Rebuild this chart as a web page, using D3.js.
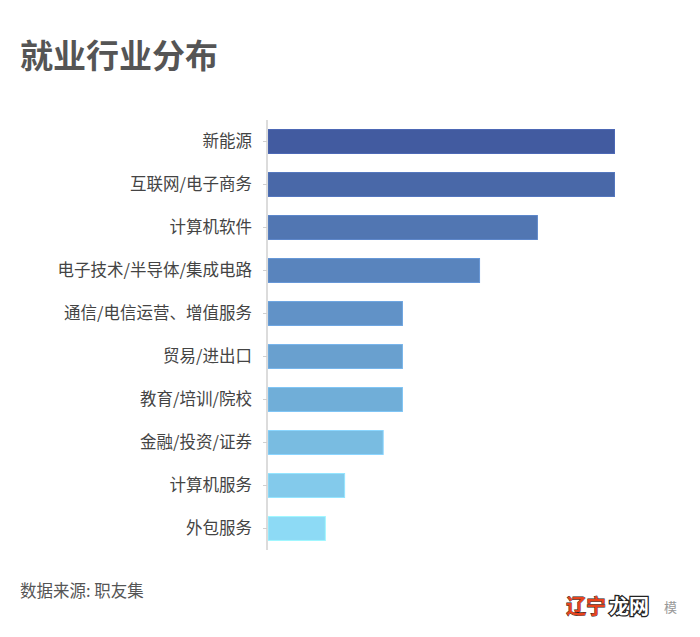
<!DOCTYPE html>
<html><head><meta charset="utf-8">
<script src="https://cdn.jsdelivr.net/npm/d3@7"></script>
<style>
body{margin:0;background:#fff;}
svg text{font-family:"Noto Sans CJK SC","Noto Sans",sans-serif;}
</style></head>
<body><svg id="c" width="700" height="637"></svg>
<script>
const categories = ["新能源","互联网/电子商务","计算机软件","电子技术/半导体/集成电路","通信/电信运营、增值服务","贸易/进出口","教育/培训/院校","金融/投资/证券","计算机服务","外包服务"];
const values = [18,18,14,11,7,7,7,6,4,3];
const colors = ["#425ba0","#4968a8","#5176b2","#5984bd","#6192c7","#69a0cf","#70aed8","#79bce1","#83caeb","#8ddaf5"];
const title = "就业行业分布";
const source = "数据来源: 职友集";

const svg = d3.select("#c");
const x0 = 268, x1 = 615;
const x = d3.scaleLinear().domain([0,18]).range([x0,x1]);
const y = d3.scaleBand().domain(categories).range([120,550]).paddingInner(0.42).paddingOuter(0.21);

svg.append("text").attr("x",20).attr("y",68).attr("font-size",33).attr("font-weight",700)
  .attr("fill","#555").text(title);

svg.selectAll("rect.bar").data(categories).enter().append("rect")
  .attr("class","bar")
  .attr("x",x0).attr("y",d=>y(d)+0.5)
  .attr("width",(d,i)=>x(values[i])-x0-0.5).attr("height",y.bandwidth()-1)
  .attr("fill",(d,i)=>colors[i])
  .attr("stroke",(d,i)=>d3.color(colors[i]).brighter(0.35))
  .attr("stroke-width",1);

const axis = d3.axisLeft(y).tickSize(4).tickPadding(11);
const g = svg.append("g").attr("transform",`translate(${x0-1},0)`).call(axis);
g.select(".domain").attr("stroke","#dcdcdc").attr("stroke-width",2).attr("d","M0,120V550");
g.selectAll(".tick line").attr("stroke","#d0d0d0");
g.selectAll(".tick text").attr("font-size",16.5).attr("fill","#444")
  .attr("font-family",'"Noto Sans CJK SC",sans-serif');

svg.append("text").attr("x",20).attr("y",597).attr("font-size",16.5).attr("fill","#555").text(source);

// watermark
const wm = svg.append("g").attr("font-size",20).attr("font-weight",700);
wm.append("text").attr("x",566).attr("y",614).attr("fill","#e8431c").attr("stroke","#222").attr("stroke-width",0.8).attr("paint-order","stroke").text("辽宁");
wm.append("text").attr("x",609).attr("y",614).attr("fill","#fff").attr("stroke","#222").attr("stroke-width",2.5).attr("paint-order","stroke").text("龙网");
svg.append("text").attr("x",664).attr("y",612).attr("font-size",13).attr("fill","#999").text("模");
</script></body></html>
